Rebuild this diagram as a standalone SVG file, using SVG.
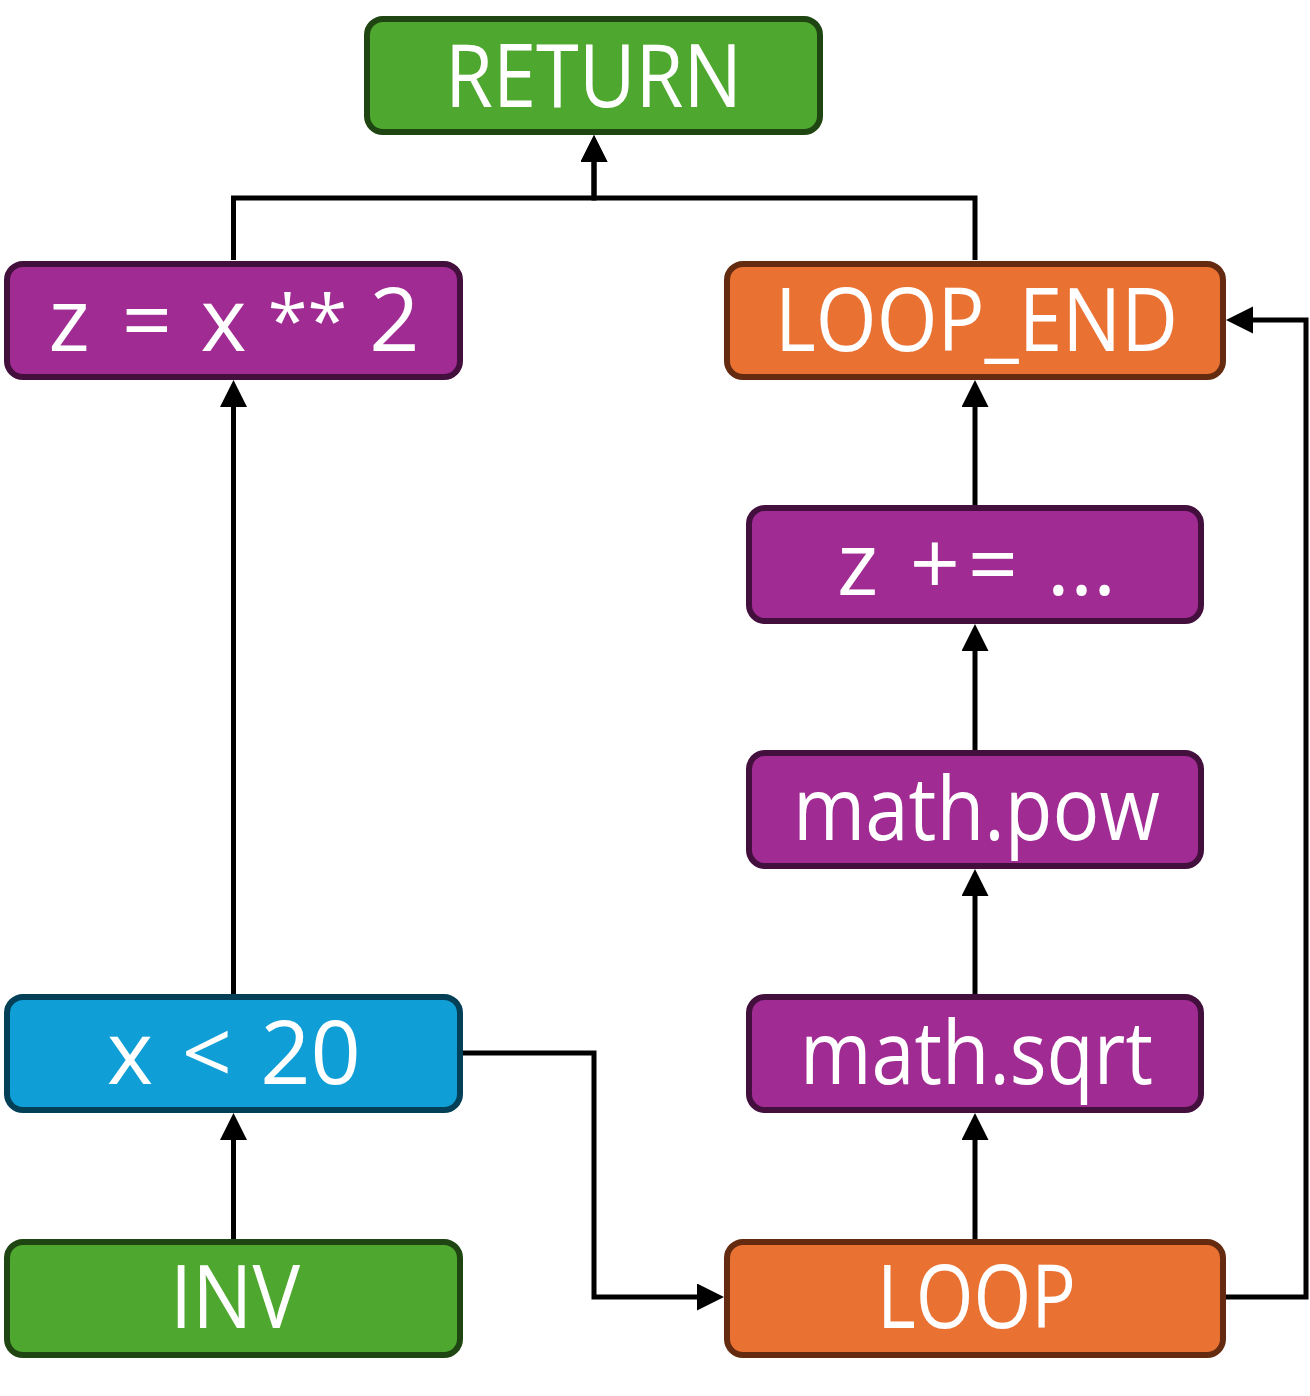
<svg xmlns="http://www.w3.org/2000/svg" width="1310" height="1396" viewBox="0 0 1310 1396">
  <style>
    .node rect { stroke-width: 6; }
    .green rect { fill: #4EA72E; stroke: #1E4512; }
    .purple rect { fill: #A02B93; stroke: #430F3D; }
    .orange rect { fill: #E97132; stroke: #652B10; }
    .blue rect { fill: #0F9ED5; stroke: #033F56; }
    .node text { fill: #FFFFFF; font-family: "Open Sans", "Noto Sans", "DejaVu Sans", sans-serif; font-size: 88px; text-anchor: middle; }
    .edge { fill: none; stroke: #000000; stroke-width: 5; }
  </style>
  <defs>
    <marker id="arrow" markerUnits="userSpaceOnUse" markerWidth="28" markerHeight="28" refX="17" refY="13.5" orient="auto">
      <path d="M0,0 L27,13.5 L0,27 Z" fill="#000000"/>
    </marker>
  </defs>

  <rect width="1310" height="1396" fill="#FFFFFF"/>

  <!-- connectors -->
  <g id="edges">
    <path class="edge" d="M233.5,260 V198 H594 V145" marker-end="url(#arrow)"/>
    <path class="edge" d="M975,260 V198 H594 V145" marker-end="url(#arrow)"/>
    <path class="edge" d="M233.5,994 V390" marker-end="url(#arrow)"/>
    <path class="edge" d="M233.5,1239 V1123" marker-end="url(#arrow)"/>
    <path class="edge" d="M463,1053 H594 V1297 H714" marker-end="url(#arrow)"/>
    <path class="edge" d="M975,1239 V1123" marker-end="url(#arrow)"/>
    <path class="edge" d="M975,994 V879" marker-end="url(#arrow)"/>
    <path class="edge" d="M975,750 V634" marker-end="url(#arrow)"/>
    <path class="edge" d="M975,505 V390" marker-end="url(#arrow)"/>
    <path class="edge" d="M1226,1297 H1306 V320 H1236" marker-end="url(#arrow)"/>
  </g>

  <!-- nodes -->
  <g id="node-return" class="node green">
    <rect x="367" y="19" width="453" height="113" rx="16"/>
    <text x="593.5" y="107" textLength="297" lengthAdjust="spacingAndGlyphs">RETURN</text>
  </g>
  <g id="node-z-assign" class="node purple">
    <rect x="7" y="264" width="453" height="113" rx="16"/>
    <text y="351"><tspan x="69">z</tspan><tspan x="147">=</tspan><tspan x="223.5">x</tspan><tspan x="307.5" font-size="72" y="346">**</tspan><tspan x="394.5" y="351">2</tspan></text>
  </g>
  <g id="node-loop-end" class="node orange">
    <rect x="727" y="264" width="496" height="113" rx="16"/>
    <text x="976.5" y="351" textLength="403" lengthAdjust="spacingAndGlyphs">LOOP_END</text>
  </g>
  <g id="node-z-add" class="node purple">
    <rect x="749" y="508" width="452" height="113" rx="16"/>
    <text y="595"><tspan x="857.5">z</tspan><tspan x="935">+</tspan><tspan x="993">=</tspan><tspan x="1081.5">...</tspan></text>
  </g>
  <g id="node-math-pow" class="node purple">
    <rect x="749" y="753" width="452" height="113" rx="16"/>
    <text x="976.5" y="840" textLength="367" lengthAdjust="spacingAndGlyphs">math.pow</text>
  </g>
  <g id="node-math-sqrt" class="node purple">
    <rect x="749" y="997" width="452" height="113" rx="16"/>
    <text x="976.5" y="1084" textLength="353" lengthAdjust="spacingAndGlyphs">math.sqrt</text>
  </g>
  <g id="node-cond" class="node blue">
    <rect x="7" y="997" width="453" height="113" rx="16"/>
    <text y="1084"><tspan x="130">x</tspan><tspan x="207">&lt;</tspan><tspan x="310.5">20</tspan></text>
  </g>
  <g id="node-inv" class="node green">
    <rect x="7" y="1242" width="453" height="113" rx="16"/>
    <text x="235" y="1328" textLength="130" lengthAdjust="spacingAndGlyphs">INV</text>
  </g>
  <g id="node-loop" class="node orange">
    <rect x="727" y="1242" width="496" height="113" rx="16"/>
    <text x="976.5" y="1328" textLength="199" lengthAdjust="spacingAndGlyphs">LOOP</text>
  </g>
</svg>
